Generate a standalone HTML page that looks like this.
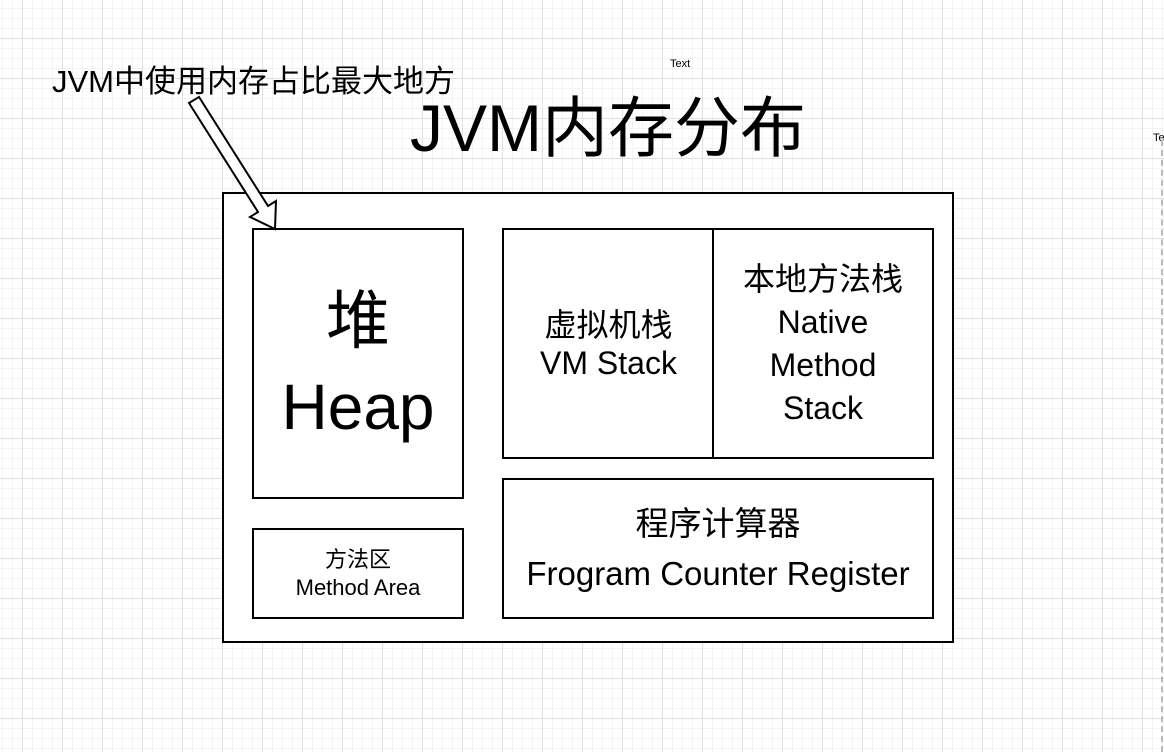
<!DOCTYPE html>
<html><head><meta charset="utf-8"><style>
body{margin:0;width:1164px;height:752px;overflow:hidden;background:#fff;
background-image:linear-gradient(#e0e0e0 1px,transparent 1px),linear-gradient(90deg,#e0e0e0 1px,transparent 1px),linear-gradient(#f3f3f3 1px,transparent 1px),linear-gradient(90deg,#f3f3f3 1px,transparent 1px);
background-size:40px 40px,40px 40px,10px 10px,10px 10px;background-position:0 -2px,22px 0,0 -2px,2px 0;
font-family:"Liberation Sans","Noto Sans CJK SC",sans-serif;position:relative}
.b{position:absolute;border:2px solid #000;background:#fff;box-sizing:border-box;display:flex;align-items:center;justify-content:center;text-align:center;color:#000}
.t{position:absolute;color:#000;white-space:nowrap}
</style></head><body>
<div class="t" style="left:52px;top:56px;font-size:31px">JVM中使用内存占比最大地方</div>
<div class="t" style="left:670px;top:58px;font-size:11px">Text</div>
<div class="t" style="left:1153px;top:132px;font-size:11px">Te</div>
<div style="position:absolute;left:1161px;top:140px;height:612px;border-left:2px dashed #bbb"></div>
<div class="t" style="left:410px;top:88px;font-size:66px;line-height:80px">JVM内存分布</div>
<div class="b" style="left:222px;top:192px;width:732px;height:451px"></div>
<div class="b" style="left:252px;top:228px;width:212px;height:271px;font-size:64px;line-height:86px">堆<br>Heap</div>
<div class="b" style="left:252px;top:528px;width:212px;height:91px;font-size:22px;line-height:28px">方法区<br>Method Area</div>
<div class="b" style="left:502px;top:228px;width:213px;height:231px;font-size:32px;line-height:38px">虚拟机栈<br>VM Stack</div>
<div class="b" style="left:712px;top:228px;width:222px;height:231px;font-size:32px;line-height:43px">本地方法栈<br>Native<br>Method<br>Stack</div>
<div class="b" style="left:502px;top:478px;width:432px;height:141px;font-size:33px;line-height:50px">程序计算器<br>Frogram Counter Register</div>
<svg style="position:absolute;left:0;top:0" width="1164" height="752">
<polygon points="189,103 199,97 268,206 276,201 275,229 250,217 258,212" fill="#fff" stroke="#000" stroke-width="2" stroke-linejoin="miter"/>
</svg>
</body></html>
